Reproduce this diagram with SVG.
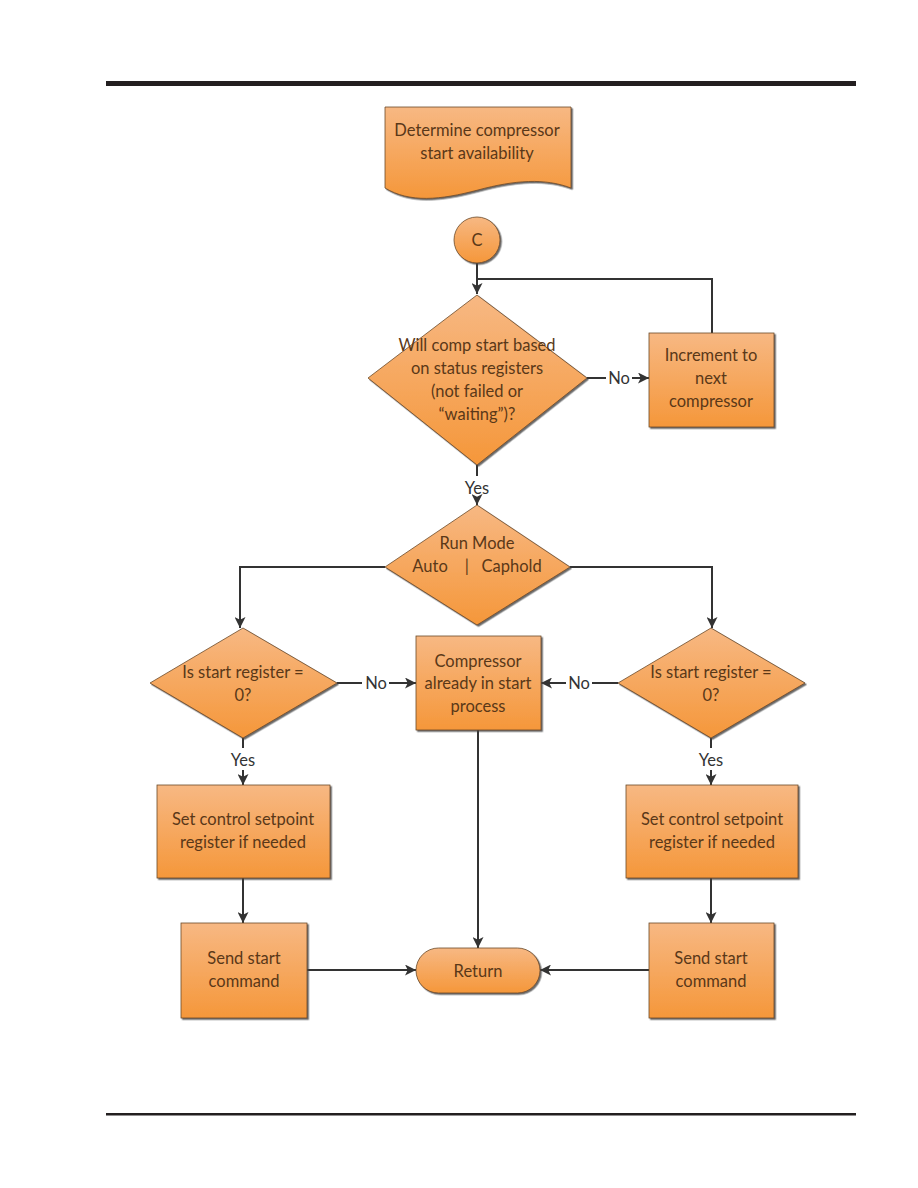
<svg xmlns="http://www.w3.org/2000/svg" width="918" height="1188" viewBox="0 0 918 1188">
<defs>
<linearGradient id="og" x1="0" y1="0" x2="0" y2="1">
<stop offset="0" stop-color="#F7B883"/>
<stop offset="1" stop-color="#F5973A"/>
</linearGradient>
<filter id="sh" x="-10%" y="-10%" width="125%" height="125%">
<feDropShadow dx="1.5" dy="1.5" stdDeviation="0.6" flood-color="#444" flood-opacity="0.8"/>
</filter>
<marker id="ar" viewBox="0 0 10 10" refX="10" refY="5" markerWidth="11" markerHeight="11" orient="auto" markerUnits="userSpaceOnUse">
<path d="M0,0 L10,5 L0,10 L2.5,5 Z" fill="#333"/>
</marker>
</defs>
<style>
.s{fill:url(#og);stroke:#6b4a2a;stroke-width:0.8;filter:url(#sh)}
.t{font-family:Lato,"Open Sans",sans-serif;font-size:16.5px;fill:#5a3818;text-anchor:middle}
.l{font-family:Lato,"Open Sans",sans-serif;font-size:16.5px;fill:#333;text-anchor:middle}
.c{fill:none;stroke:#333;stroke-width:2}
</style>
<rect x="106" y="81" width="750" height="5" fill="#231f20"/>
<rect x="106" y="1113" width="750" height="2.5" fill="#231f20"/>

<g id="connectors">
<path class="c" d="M477,262 V294" marker-end="url(#ar)"/>
<path class="c" d="M712,333 V279 H477"/>
<path class="c" d="M587,378 H606"/>
<path class="c" d="M632,378 H649" marker-end="url(#ar)"/>
<path class="c" d="M477,465 V476"/>
<path class="c" d="M477,498 V505" marker-end="url(#ar)"/>
<path class="c" d="M385,567 H240 V628" marker-end="url(#ar)"/>
<path class="c" d="M570,567 H712 V628" marker-end="url(#ar)"/>
<path class="c" d="M337,683 H362"/>
<path class="c" d="M389,683 H416" marker-end="url(#ar)"/>
<path class="c" d="M618,683 H592"/>
<path class="c" d="M566,683 H541" marker-end="url(#ar)"/>
<path class="c" d="M243,738 V748"/>
<path class="c" d="M243,770 V785" marker-end="url(#ar)"/>
<path class="c" d="M711,738 V748"/>
<path class="c" d="M711,770 V785" marker-end="url(#ar)"/>
<path class="c" d="M243,878 V923" marker-end="url(#ar)"/>
<path class="c" d="M711,878 V923" marker-end="url(#ar)"/>
<path class="c" d="M478,730 V948" marker-end="url(#ar)"/>
<path class="c" d="M307,970 H416" marker-end="url(#ar)"/>
<path class="c" d="M649,970 H540" marker-end="url(#ar)"/>
<text class="l" x="619" y="384">No</text>
<text class="l" x="477" y="494">Yes</text>
<text class="l" x="376" y="689">No</text>
<text class="l" x="579" y="689">No</text>
<text class="l" x="243" y="766">Yes</text>
<text class="l" x="711" y="766">Yes</text>
</g>

<g id="start">
<path class="s" d="M385,107 H571 V188 C545,178 515,180 478,190 C440,200 410,203 385,188 Z"/>
<text class="t" x="477" y="136">Determine compressor</text>
<text class="t" x="477" y="159">start availability</text>
</g>

<g id="connectorC">
<circle class="s" cx="477" cy="240" r="23"/>
<text class="t" x="477" y="246">C</text>
</g>

<g id="decision1">
<path class="s" d="M477,295 L587,378 L477,465 L368,378 Z"/>
<text class="t" x="477" y="351">Will comp start based</text>
<text class="t" x="477" y="374">on status registers</text>
<text class="t" x="477" y="397">(not failed or</text>
<text class="t" x="477" y="420">“waiting”)?</text>
</g>

<g id="increment">
<rect class="s" x="649" y="333" width="125" height="94"/>
<text class="t" x="711" y="361">Increment to</text>
<text class="t" x="711" y="384">next</text>
<text class="t" x="711" y="407">compressor</text>
</g>

<g id="runmode">
<path class="s" d="M477,505 L570,567 L477,625 L385,567 Z"/>
<text class="t" x="477" y="549">Run Mode</text>
<text class="t" x="477" y="572" xml:space="preserve">Auto    |   Caphold</text>
</g>

<g id="decisionLeft">
<path class="s" d="M243,628 L337,683 L243,738 L150,683 Z"/>
<text class="t" x="243" y="678">Is start register =</text>
<text class="t" x="243" y="701">0?</text>
</g>

<g id="decisionRight">
<path class="s" d="M711,628 L805,683 L711,738 L618,683 Z"/>
<text class="t" x="711" y="678">Is start register =</text>
<text class="t" x="711" y="701">0?</text>
</g>

<g id="already">
<rect class="s" x="416" y="636" width="125" height="94"/>
<text class="t" x="478" y="667">Compressor</text>
<text class="t" x="478" y="689">already in start</text>
<text class="t" x="478" y="712">process</text>
</g>

<g id="setLeft">
<rect class="s" x="157" y="785" width="173" height="93"/>
<text class="t" x="243" y="825">Set control setpoint</text>
<text class="t" x="243" y="848">register if needed</text>
</g>

<g id="setRight">
<rect class="s" x="626" y="785" width="172" height="93"/>
<text class="t" x="712" y="825">Set control setpoint</text>
<text class="t" x="712" y="848">register if needed</text>
</g>

<g id="sendLeft">
<rect class="s" x="181" y="923" width="126" height="95"/>
<text class="t" x="244" y="964">Send start</text>
<text class="t" x="244" y="987">command</text>
</g>

<g id="sendRight">
<rect class="s" x="649" y="923" width="125" height="95"/>
<text class="t" x="711" y="964">Send start</text>
<text class="t" x="711" y="987">command</text>
</g>

<g id="return">
<rect class="s" x="416" y="948" width="124" height="45" rx="22.5"/>
<text class="t" x="478" y="977">Return</text>
</g>
</svg>
